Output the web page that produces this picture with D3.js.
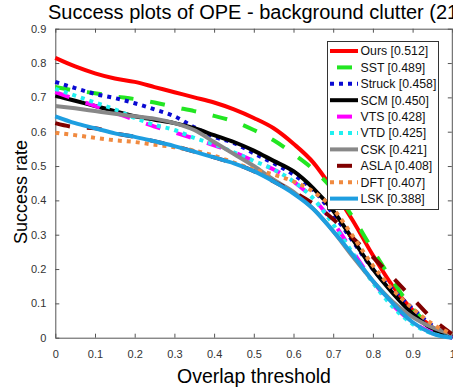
<!DOCTYPE html>
<html>
<head>
<meta charset="utf-8">
<script src="https://cdn.jsdelivr.net/npm/d3@7"></script>
<style>
  body { margin: 0; background: #fff; }
  svg { font-family: "Liberation Sans", Arial, sans-serif; }
  .tick text { fill: #333; font-size: 11px; }
  .tick line, .domain { stroke: #555; }
</style>
</head>
<body>
<div id="chart"></div>
<script>
// Success plot, OPE, background clutter subset
const thresholds = [0, 0.05, 0.1, 0.15, 0.2, 0.25, 0.3, 0.35, 0.4, 0.45, 0.5,
                    0.55, 0.6, 0.65, 0.7, 0.75, 0.8, 0.85, 0.9, 0.95, 1];

const ours   = [0.815, 0.79, 0.77, 0.755, 0.745, 0.73, 0.715, 0.70, 0.685, 0.665, 0.64, 0.61, 0.565, 0.51, 0.43, 0.34, 0.24, 0.15, 0.08, 0.03, 0];
const sst    = [0.73, 0.72, 0.712, 0.703, 0.695, 0.685, 0.672, 0.66, 0.646, 0.63, 0.605, 0.575, 0.535, 0.49, 0.43, 0.35, 0.255, 0.165, 0.085, 0.03, 0];
const struck = [0.745, 0.727, 0.71, 0.698, 0.683, 0.665, 0.645, 0.613, 0.585, 0.567, 0.537, 0.508, 0.475, 0.43, 0.36, 0.28, 0.2, 0.14, 0.085, 0.035, 0];
const scm    = [0.705, 0.69, 0.675, 0.66, 0.645, 0.635, 0.625, 0.61, 0.59, 0.57, 0.545, 0.515, 0.485, 0.435, 0.37, 0.285, 0.2, 0.13, 0.07, 0.025, 0];
const vts    = [0.715, 0.695, 0.675, 0.655, 0.635, 0.615, 0.598, 0.58, 0.56, 0.54, 0.515, 0.49, 0.455, 0.405, 0.335, 0.25, 0.165, 0.095, 0.045, 0.015, 0];
const vtd    = [0.725, 0.705, 0.685, 0.665, 0.64, 0.62, 0.605, 0.582, 0.563, 0.54, 0.515, 0.49, 0.455, 0.405, 0.33, 0.245, 0.16, 0.09, 0.04, 0.012, 0];
const csk    = [0.675, 0.668, 0.66, 0.652, 0.645, 0.638, 0.625, 0.605, 0.57, 0.535, 0.5, 0.46, 0.425, 0.375, 0.31, 0.235, 0.165, 0.105, 0.06, 0.03, 0.01];
const asla   = [0.625, 0.613, 0.61, 0.595, 0.585, 0.572, 0.558, 0.542, 0.525, 0.508, 0.485, 0.455, 0.425, 0.39, 0.345, 0.29, 0.235, 0.175, 0.115, 0.055, 0.01];
const dft    = [0.597, 0.59, 0.582, 0.575, 0.57, 0.562, 0.555, 0.545, 0.53, 0.51, 0.49, 0.475, 0.455, 0.425, 0.375, 0.295, 0.21, 0.14, 0.085, 0.04, 0.01];
const lsk    = [0.645, 0.625, 0.61, 0.595, 0.585, 0.572, 0.558, 0.542, 0.525, 0.508, 0.485, 0.455, 0.42, 0.375, 0.31, 0.24, 0.165, 0.1, 0.045, 0.012, 0];

const trackerNames = ["Ours [0.512]", "SST [0.489]", "Struck [0.458]", "SCM [0.450]", "VTS [0.428]",
                      "VTD [0.425]", "CSK [0.421]", "ASLA [0.408]", "DFT [0.407]", "LSK [0.388]"];
const trackerValues = [ours, sst, struck, scm, vts, vtd, csk, asla, dft, lsk];

const xTicks = [0, 0.1, 0.2, 0.3, 0.4, 0.5, 0.6, 0.7, 0.8, 0.9, 1];
const yTicks = [0, 0.1, 0.2, 0.3, 0.4, 0.5, 0.6, 0.7, 0.8, 0.9];

// line styles (matlab-ish)
const styles = [
  { color: "#ff0000", dash: null },
  { color: "#22e622", dash: "15,17", off: 25 },
  { color: "#0a0ad2", dash: "4,5" },
  { color: "#000000", dash: null },
  { color: "#ff00ff", dash: "15,17", off: 25 },
  { color: "#20f0f0", dash: "4,5" },
  { color: "#888888", dash: null },
  { color: "#800000", dash: "15,17", off: 25 },
  { color: "#f08a40", dash: "4,5" },
  { color: "#1e9ee0", dash: null }
];

const width = 453, height = 388;
const svg = d3.select("#chart").append("svg")
  .attr("width", width)
  .attr("height", height);

const x = d3.scaleLinear().domain([0, 1]).range([55.3, 452.3]);
const y = d3.scaleLinear().domain([0, 0.9]).range([337.7, 28.7]);

// title (runs off the right edge, as in the source figure)
svg.append("text")
  .attr("x", 48).attr("y", 19)
  .style("font-size", "20px")
  .style("fill", "#000")
  .text("Success plots of OPE - background clutter (21)");

// axes (box with inward ticks)
svg.append("g")
  .attr("transform", `translate(0,${y(0)})`)
  .call(d3.axisBottom(x).tickValues(xTicks).tickSizeInner(-4).tickSizeOuter(0)
    .tickPadding(13).tickFormat(d => d3.format("")(d)));

svg.append("g")
  .attr("transform", `translate(0,${y(0.9)})`)
  .call(d3.axisTop(x).tickValues(xTicks).tickSizeInner(-4).tickSizeOuter(0).tickFormat(""));

svg.append("g")
  .attr("transform", `translate(${x(0)},0)`)
  .call(d3.axisLeft(y).tickValues(yTicks).tickSizeInner(-4).tickSizeOuter(0)
    .tickPadding(9).tickFormat(d => d3.format("")(+d.toFixed(1))));

svg.append("g")
  .attr("transform", `translate(${x(1) - 0.5},0)`)
  .call(d3.axisRight(y).tickValues(yTicks).tickSizeInner(-4).tickSizeOuter(0).tickFormat(""));

// axis labels
svg.append("text")
  .attr("x", 254).attr("y", 383)
  .attr("text-anchor", "middle")
  .style("font-size", "19.5px")
  .text("Overlap threshold");

svg.append("text")
  .attr("transform", "rotate(-90)")
  .attr("x", -192).attr("y", 27)
  .attr("text-anchor", "middle")
  .style("font-size", "18px")
  .text("Success rate");

// curves
const lineGen = d3.line()
  .x((d, i) => x(thresholds[i]))
  .y(d => y(d))
  .curve(d3.curveMonotoneX);

const plot = svg.append("g");
trackerValues.forEach((vals, i) => {
  plot.append("path")
    .datum(vals)
    .attr("d", lineGen)
    .attr("fill", "none")
    .attr("stroke", styles[i].color)
    .attr("stroke-width", 4)
    .attr("stroke-dasharray", styles[i].dash)
    .attr("stroke-linejoin", "round");
});

// legend
const legend = svg.append("g");
legend.append("rect")
  .attr("x", 327.5).attr("y", 41.5)
  .attr("width", 111).attr("height", 168)
  .attr("fill", "#fff")
  .attr("stroke", "#333")
  .attr("stroke-width", 1);

trackerNames.forEach((name, i) => {
  const ly = 51 + i * 16.4;
  legend.append("line")
    .attr("x1", 330).attr("x2", 358)
    .attr("y1", ly).attr("y2", ly)
    .attr("stroke", styles[i].color)
    .attr("stroke-width", 4)
    .attr("stroke-dasharray", styles[i].dash)
    .attr("stroke-dashoffset", styles[i].off || 0);
  legend.append("text")
    .attr("x", 360.5).attr("y", ly + 4.3)
    .style("font-size", "12.3px")
    .style("fill", "#111")
    .text(name);
});
</script>
</body>
</html>
